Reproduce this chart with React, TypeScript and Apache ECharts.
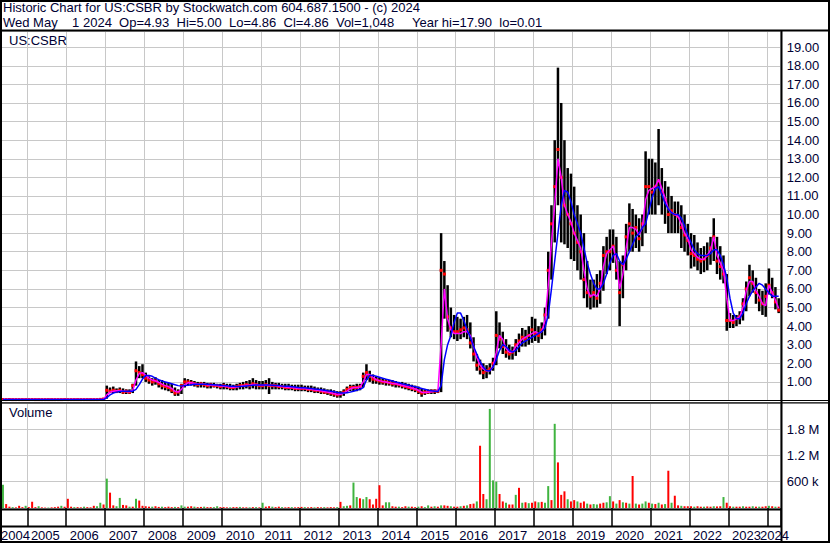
import React, { useEffect, useRef } from 'react';
import * as echarts from 'echarts';

// ---- categories: one per month, May 2004 .. Apr 2024 ----
const FIRST_YEAR = 2004;
const FIRST_MONTH = 5;
const MONTH_COUNT = 240;
const months: string[] = [];
for (let k = 0; k < MONTH_COUNT; k++) {
  const t = FIRST_MONTH - 1 + k;
  const y = FIRST_YEAR + Math.floor(t / 12);
  const m = (t % 12) + 1;
  months.push(`${y}-${String(m).padStart(2, '0')}`);
}

const NB = '\u00a0';
const headerLine1 = 'Historic Chart for US:CSBR by Stockwatch.com 604.687.1500 - (c) 2024';
const headerLine2 =
  `Wed May${NB}${NB}${NB} 1 2024${NB} Op=4.93${NB} Hi=5.00${NB} Lo=4.86${NB} Cl=4.86${NB} Vol=1,048${NB}${NB}${NB}${NB} Year hi=17.90${NB} lo=0.01`;
const symbolLabel = 'US:CSBR';
const volumeLabel = 'Volume';
const firstYearLabel = '2004';
const lastYearLabel = '2024';

// monthly high (per year rows; 2004 starts in May, 2024 ends in April)
const high: number[] = [
  0.08, 0.08, 0.07, 0.08, 0.08, 0.07, 0.08, 0.08,
  0.08, 0.07, 0.08, 0.08, 0.07, 0.08, 0.08, 0.07, 0.08, 0.08, 0.07, 0.08,
  0.08, 0.08, 0.07, 0.08, 0.08, 0.07, 0.08, 0.08, 0.07, 0.08, 0.09, 0.1,
  0.8, 0.7, 0.75, 0.65, 0.7, 0.65, 0.6, 0.6, 0.9, 2.1, 1.85, 1.95,
  1.5, 1.3, 1.2, 1.25, 1.1, 1.1, 1.0, 0.95, 0.9, 0.7, 0.6, 0.9,
  1.2, 1.15, 1.1, 1.05, 1.0, 1.0, 1.0, 0.95, 0.95, 0.95, 0.9, 0.9,
  0.95, 0.9, 0.9, 0.85, 0.9, 0.95, 1.0, 1.05, 1.1, 1.2, 1.1, 1.05,
  1.05, 1.1, 1.2, 1.0, 0.95, 0.95, 0.9, 0.9, 0.9, 0.85, 0.85, 0.85,
  0.85, 0.8, 0.8, 0.8, 0.75, 0.7, 0.7, 0.65, 0.6, 0.6, 0.55, 0.5,
  0.5, 0.6, 0.75, 0.85, 0.85, 0.9, 0.9, 1.5, 1.95, 1.6, 1.4, 1.3,
  1.25, 1.2, 1.15, 1.1, 1.1, 1.05, 1.0, 1.0, 0.95, 0.9, 0.85, 0.8,
  0.75, 0.65, 0.6, 0.6, 0.6, 0.6, 0.6, 9.0, 7.5, 6.2, 5.0, 4.6,
  4.5, 4.4, 4.5, 4.6, 4.2, 3.4, 2.5, 2.2, 2.0, 1.9, 2.0, 2.3,
  4.8, 4.2, 3.7, 3.3, 3.0, 2.9, 3.3, 3.6, 3.9, 3.8, 4.0, 4.5,
  4.4, 4.0, 4.2, 5.0, 8.0, 10.5, 14.0, 17.9, 16.0, 14.0, 12.5, 12.2,
  11.5, 10.5, 10.0, 9.0, 7.5, 6.5, 6.5, 6.8, 7.0, 8.3, 8.8, 9.2,
  9.2, 8.8, 7.5, 7.8, 9.5, 10.6, 10.3, 10.0, 9.8, 10.0, 13.4, 13.0,
  13.0, 12.8, 14.6, 12.5, 11.8, 11.5, 11.0, 10.7, 10.7, 10.5, 10.0, 9.5,
  9.0, 8.9, 8.5, 8.2, 8.3, 8.5, 8.8, 9.8, 8.8, 8.3, 7.8, 6.8,
  4.7, 4.6, 4.6, 4.8, 5.5, 6.4, 7.3, 7.0, 6.6, 6.0, 5.9, 6.3,
  7.1, 6.6, 6.1, 5.5,
];

const low: number[] = [
  0.03, 0.03, 0.03, 0.03, 0.03, 0.03, 0.03, 0.03,
  0.03, 0.03, 0.03, 0.03, 0.03, 0.03, 0.03, 0.03, 0.03, 0.03, 0.03, 0.03,
  0.03, 0.03, 0.03, 0.03, 0.03, 0.03, 0.03, 0.03, 0.03, 0.03, 0.04, 0.05,
  0.1, 0.4, 0.4, 0.4, 0.4, 0.35, 0.35, 0.35, 0.4, 0.8, 1.2, 1.2,
  1.0, 0.9, 0.8, 0.85, 0.7, 0.6, 0.55, 0.5, 0.4, 0.25, 0.25, 0.35,
  0.7, 0.8, 0.8, 0.75, 0.7, 0.7, 0.7, 0.65, 0.65, 0.7, 0.65, 0.6,
  0.6, 0.6, 0.55, 0.55, 0.55, 0.6, 0.6, 0.65, 0.6, 0.65, 0.6, 0.6,
  0.6, 0.6, 0.35, 0.6, 0.6, 0.6, 0.6, 0.55, 0.55, 0.55, 0.5, 0.5,
  0.5, 0.5, 0.45, 0.45, 0.4, 0.4, 0.35, 0.35, 0.3, 0.25, 0.2, 0.15,
  0.15, 0.25, 0.4, 0.5, 0.5, 0.5, 0.55, 0.7, 1.1, 1.0, 0.9, 0.9,
  0.85, 0.85, 0.8, 0.8, 0.75, 0.7, 0.7, 0.65, 0.6, 0.55, 0.5, 0.45,
  0.35, 0.2, 0.3, 0.35, 0.35, 0.35, 0.4, 0.45, 4.4, 3.7, 3.4, 3.3,
  3.2, 3.3, 3.4, 3.3, 2.8, 2.1, 1.6, 1.4, 1.15, 1.2, 1.4, 1.6,
  1.9, 2.8, 2.5, 2.3, 2.2, 2.2, 2.4, 2.6, 2.9, 2.9, 3.0, 3.1,
  3.2, 3.1, 3.3, 3.5, 4.4, 6.5, 8.5, 10.5, 8.5, 8.4, 8.2, 7.6,
  7.5, 7.0, 6.5, 5.5, 5.0, 4.9, 5.0, 5.0, 5.2, 5.9, 6.8, 7.0,
  7.4, 6.5, 4.0, 5.5, 7.0, 8.0, 8.0, 8.2, 8.0, 8.3, 9.0, 10.0,
  10.0, 10.0, 10.5, 10.0, 9.5, 9.0, 9.0, 9.0, 9.0, 8.2, 8.0, 7.8,
  7.1, 7.2, 7.0, 6.8, 6.9, 7.0, 7.3, 7.5, 6.8, 6.5, 6.3, 3.75,
  3.9, 3.9, 4.0, 4.1, 4.3, 4.8, 5.6, 5.8, 5.2, 4.8, 4.6, 4.5,
  5.7, 5.5, 4.9, 4.7,
];

const close: number[] = [
  0.05, 0.05, 0.05, 0.05, 0.05, 0.05, 0.05, 0.05,
  0.05, 0.05, 0.05, 0.05, 0.05, 0.05, 0.05, 0.05, 0.05, 0.05, 0.05, 0.05,
  0.05, 0.05, 0.05, 0.05, 0.05, 0.05, 0.05, 0.05, 0.05, 0.05, 0.06, 0.08,
  0.55, 0.5, 0.55, 0.5, 0.55, 0.45, 0.5, 0.45, 0.8, 1.6, 1.5, 1.4,
  1.2, 1.1, 1.0, 1.05, 0.9, 0.8, 0.75, 0.7, 0.55, 0.4, 0.45, 0.8,
  1.0, 1.0, 0.95, 0.9, 0.85, 0.9, 0.85, 0.8, 0.85, 0.8, 0.8, 0.75,
  0.8, 0.75, 0.7, 0.7, 0.75, 0.8, 0.8, 0.85, 0.8, 0.9, 0.85, 0.8,
  0.8, 0.85, 0.8, 0.8, 0.8, 0.75, 0.75, 0.7, 0.7, 0.7, 0.65, 0.65,
  0.65, 0.65, 0.6, 0.6, 0.55, 0.55, 0.5, 0.45, 0.45, 0.4, 0.35, 0.3,
  0.35, 0.45, 0.6, 0.7, 0.7, 0.7, 0.75, 1.3, 1.5, 1.3, 1.15, 1.1,
  1.05, 1.0, 1.0, 0.95, 0.9, 0.9, 0.85, 0.8, 0.75, 0.7, 0.65, 0.6,
  0.5, 0.4, 0.45, 0.45, 0.5, 0.5, 0.5, 7.0, 6.8, 4.5, 3.9, 3.7,
  3.7, 3.8, 3.9, 3.8, 3.1, 2.5, 1.9, 1.7, 1.5, 1.6, 1.7, 2.0,
  3.5, 3.3, 2.9, 2.6, 2.5, 2.6, 3.0, 3.2, 3.4, 3.3, 3.5, 3.8,
  3.6, 3.5, 3.8, 4.6, 7.0, 9.5, 11.5, 13.5, 12.0, 10.5, 10.0, 9.5,
  9.0, 8.5, 8.0, 6.5, 5.8, 5.6, 5.8, 5.5, 6.3, 7.8, 8.0, 8.0,
  8.3, 7.0, 5.8, 7.3, 8.8, 9.5, 9.0, 9.3, 8.7, 9.5, 11.5, 11.5,
  11.2, 11.5, 11.8, 11.2, 10.8, 10.0, 10.2, 10.0, 9.9, 9.3, 8.9, 8.6,
  7.9, 7.8, 7.6, 7.5, 7.6, 7.8, 8.2, 8.8, 7.5, 7.2, 6.8, 4.3,
  4.3, 4.2, 4.4, 4.5, 5.2, 6.0, 6.6, 6.3, 5.8, 5.4, 5.2, 5.6,
  6.2, 5.8, 5.3, 4.86,
];

// short moving average (magenta)
const maFast: number[] = [
  0.05, 0.05, 0.05, 0.05, 0.05, 0.05, 0.05, 0.05,
  0.05, 0.05, 0.05, 0.05, 0.05, 0.05, 0.05, 0.05, 0.05, 0.05, 0.05, 0.05,
  0.05, 0.05, 0.05, 0.05, 0.05, 0.05, 0.05, 0.05, 0.05, 0.05, 0.05, 0.06,
  0.3, 0.45, 0.5, 0.52, 0.52, 0.5, 0.48, 0.47, 0.55, 1.1, 1.45, 1.5,
  1.35, 1.2, 1.1, 1.05, 0.98, 0.88, 0.8, 0.75, 0.65, 0.5, 0.45, 0.6,
  0.85, 0.95, 0.95, 0.92, 0.88, 0.88, 0.87, 0.84, 0.83, 0.82, 0.8, 0.78,
  0.77, 0.75, 0.72, 0.71, 0.72, 0.76, 0.79, 0.82, 0.82, 0.86, 0.86, 0.82,
  0.81, 0.83, 0.8, 0.8, 0.8, 0.77, 0.75, 0.72, 0.7, 0.7, 0.67, 0.65,
  0.65, 0.65, 0.62, 0.6, 0.57, 0.55, 0.52, 0.48, 0.45, 0.42, 0.37, 0.32,
  0.33, 0.4, 0.5, 0.62, 0.7, 0.7, 0.72, 1.0, 1.4, 1.4, 1.25, 1.12,
  1.07, 1.02, 1.0, 0.96, 0.92, 0.9, 0.86, 0.82, 0.77, 0.72, 0.67, 0.62,
  0.55, 0.45, 0.43, 0.45, 0.47, 0.5, 0.5, 3.0, 6.0, 4.4, 3.8, 3.6,
  3.6, 3.6, 3.7, 3.7, 3.5, 2.9, 2.3, 1.9, 1.7, 1.6, 1.6, 1.8,
  2.6, 3.5, 3.3, 2.8, 2.6, 2.6, 2.9, 3.1, 3.3, 3.4, 3.5, 3.6,
  3.7, 3.6, 3.7, 4.3, 6.2, 8.5, 10.5, 13.0, 12.0, 10.5, 10.0, 9.6,
  9.0, 8.6, 8.2, 7.0, 6.0, 5.6, 5.7, 5.6, 6.0, 7.2, 7.9, 8.1,
  8.3, 7.5, 6.0, 6.8, 8.2, 9.3, 9.3, 9.2, 8.9, 9.3, 10.8, 11.3,
  11.4, 11.5, 11.9, 11.4, 10.9, 10.3, 10.1, 10.0, 9.9, 9.5, 9.0, 8.7,
  8.1, 7.9, 7.7, 7.6, 7.6, 7.8, 8.1, 8.8, 7.8, 7.4, 7.0, 5.5,
  4.3, 4.3, 4.4, 4.5, 5.0, 5.9, 6.4, 6.4, 5.9, 5.6, 5.2, 5.1,
  6.2, 5.8, 5.4, 4.95,
];

// long moving average (blue)
const maSlow: number[] = [
  0.05, 0.05, 0.05, 0.05, 0.05, 0.05, 0.05, 0.05,
  0.05, 0.05, 0.05, 0.05, 0.05, 0.05, 0.05, 0.05, 0.05, 0.05, 0.05, 0.05,
  0.05, 0.05, 0.05, 0.05, 0.05, 0.05, 0.05, 0.05, 0.05, 0.05, 0.05, 0.05,
  0.15, 0.3, 0.4, 0.45, 0.48, 0.5, 0.5, 0.5, 0.5, 0.6, 0.85, 1.15,
  1.35, 1.35, 1.3, 1.2, 1.12, 1.05, 1.0, 0.95, 0.9, 0.85, 0.8, 0.78,
  0.8, 0.82, 0.85, 0.87, 0.88, 0.88, 0.88, 0.87, 0.86, 0.85, 0.84, 0.82,
  0.8, 0.79, 0.77, 0.76, 0.75, 0.75, 0.76, 0.78, 0.8, 0.82, 0.84, 0.84,
  0.83, 0.83, 0.83, 0.82, 0.81, 0.8, 0.78, 0.77, 0.76, 0.74, 0.72, 0.7,
  0.69, 0.68, 0.66, 0.64, 0.62, 0.6, 0.58, 0.55, 0.52, 0.5, 0.47, 0.43,
  0.4, 0.4, 0.42, 0.45, 0.5, 0.55, 0.6, 0.7, 1.1, 1.35, 1.35, 1.3,
  1.25, 1.2, 1.15, 1.1, 1.05, 1.0, 0.95, 0.9, 0.86, 0.82, 0.78, 0.74,
  0.7, 0.65, 0.6, 0.55, 0.52, 0.5, 0.48, 0.8, 2.2, 3.0, 3.5, 4.2,
  4.7, 4.7, 4.3, 3.8, 3.4, 2.9, 2.5, 2.1, 1.8, 1.6, 1.6, 1.8,
  2.2, 2.7, 3.0, 2.9, 2.7, 2.6, 2.7, 2.9, 3.1, 3.2, 3.3, 3.4,
  3.5, 3.6, 3.7, 3.9, 4.6, 6.0, 7.5, 9.0, 10.5, 11.3, 11.2, 10.7,
  10.0, 9.5, 9.0, 8.2, 7.4, 6.8, 6.3, 6.0, 6.0, 6.3, 6.8, 7.4,
  7.8, 7.9, 7.5, 7.3, 7.6, 8.0, 8.4, 8.8, 9.0, 9.3, 9.5, 10.2,
  10.9, 11.4, 11.5, 11.1, 10.6, 10.3, 10.1, 10.0, 10.0, 9.8, 9.4, 8.9,
  8.5, 8.1, 7.9, 7.8, 7.8, 7.8, 7.9, 8.1, 8.1, 7.8, 7.3, 6.6,
  5.5, 4.7, 4.4, 4.4, 4.7, 5.2, 5.6, 5.9, 6.1, 6.3, 6.2, 6.0,
  5.8, 5.6, 5.6, 5.6,
];

// monthly peak daily volume, thousands of shares
const volumeK: number[] = [
  530, 90, 30, 20, 15, 50, 20, 50,
  20, 140, 20, 40, 15, 10, 10, 15, 20, 30, 50, 30,
  210, 30, 20, 20, 15, 30, 20, 15, 50, 40, 120, 80,
  670, 350, 60, 40, 230, 70, 60, 30, 30, 210, 170, 50,
  40, 30, 30, 40, 25, 30, 20, 30, 20, 25, 20, 60,
  30, 30, 40, 30, 20, 25, 30, 20, 20, 20, 40, 20,
  20, 15, 15, 20, 20, 25, 15, 15, 15, 20, 20, 15,
  120, 30, 40, 30, 20, 30, 20, 15, 20, 20, 15, 20,
  25, 20, 15, 20, 15, 20, 15, 20, 15, 20, 15, 20,
  140, 40, 50, 60, 580, 250, 220, 200, 250, 200, 80, 210,
  520, 60, 130, 130, 40, 30, 30, 20, 40, 30, 30, 20,
  30, 40, 20, 60, 30, 40, 30, 60, 60, 50, 40, 30,
  30, 40, 50, 60, 90, 100, 150, 1420, 320, 200, 2260, 630,
  600, 320, 150, 120, 80, 80, 300, 460, 120, 130, 110, 120,
  150, 130, 140, 120, 500, 180, 1920, 1040, 300, 380, 200, 150,
  180, 150, 120, 150, 100, 80, 90, 80, 100, 120, 130, 270,
  150, 100, 180, 130, 120, 100, 730, 100, 80, 100, 150, 120,
  100, 90, 120, 80, 90, 850, 120, 280, 60, 50, 40, 40,
  40, 30, 40, 30, 30, 35, 30, 40, 35, 40, 250, 120,
  40, 30, 30, 30, 40, 30, 30, 40, 30, 30, 30, 40,
  50, 40, 30, 30,
];

// u = up (green) bar, d = down (red) bar
const volumeDir: string[] = [
  'uddudddu',
  'ddduddudddud',
  'ddudduddduud',
  'udduuddududd',
  'dduddudddudu',
  'udduddudduud',
  'ddudduddudud',
  'uddudduddudd',
  'dudduddudddu',
  'duuduuduuddd',
  'dduudduddudd',
  'uduudududdud',
  'dududdudduuu',
  'udduddududud',
  'duduududddud',
  'dudduduudduu',
  'dududududuud',
  'ududududdudd',
  'duddudduddud',
  'dudduddududd',
  'udud',
];

const FONT = '"Liberation Sans", Arial, Helvetica, sans-serif';
const TXT = '#000033';
const GRID_GRAY = '#c8c8c8';
const GREEN = '#3fb43f';
const RED = '#ff0000';

const isJan = (_i: number, v: string) => typeof v === 'string' && v.endsWith('-01');

export default function App() {
  const ref = useRef<HTMLDivElement>(null);

  useEffect(() => {
    if (!ref.current) return;
    const chart = echarts.init(ref.current, undefined, { renderer: 'svg' });
    const dirs = volumeDir.join('');

    const ohlc = months.map((_, i) => [i, high[i], low[i], close[i]]);
    const volData = volumeK.map((v, i) => ({
      value: v * 1000,
      itemStyle: { color: dirs[i] === 'u' ? GREEN : RED },
    }));

    const renderBar = (_params: any, api: any) => {
      const i = api.value(0);
      const top = api.coord([i, api.value(1)]);
      const bot = api.coord([i, api.value(2)]);
      const cl = api.coord([i, api.value(3)]);
      return {
        type: 'group',
        children: [
          {
            type: 'line',
            shape: { x1: top[0], y1: top[1], x2: bot[0], y2: Math.max(bot[1], top[1] + 1) },
            style: { stroke: '#000000', lineWidth: 2.5 },
          },
          {
            type: 'rect',
            shape: { x: cl[0] - 1.5, y: cl[1] - 1.5, width: 3, height: 3 },
            style: { fill: RED },
          },
        ],
      };
    };

    const labelStyle = { fontFamily: FONT, fontSize: 13, color: TXT };

    const option: any = {
      animation: false,
      backgroundColor: '#ffffff',
      textStyle: { fontFamily: FONT },
      grid: [
        { left: 1.3, top: 31, width: 779, height: 369.5 },
        { left: 1.3, top: 403, width: 779, height: 105 },
      ],
      xAxis: [
        {
          type: 'category',
          gridIndex: 0,
          data: months,
          boundaryGap: true,
          axisLine: { show: false },
          axisTick: { show: false },
          axisLabel: { show: false },
          splitLine: { show: true, interval: isJan, lineStyle: { color: GRID_GRAY, width: 1 } },
        },
        {
          type: 'category',
          gridIndex: 1,
          data: months,
          boundaryGap: true,
          axisLine: { show: false },
          axisTick: {
            show: true,
            interval: isJan,
            length: 18.5,
            lineStyle: { color: '#000000', width: 1.5 },
          },
          axisLabel: {
            show: true,
            interval: (i: number, v: string) => isJan(i, v) && !v.startsWith(lastYearLabel),
            formatter: (v: string) => v.slice(0, 4),
            margin: 21,
            align: 'left',
            padding: [0, 0, 0, 2],
            ...labelStyle,
          },
          splitLine: { show: true, interval: isJan, lineStyle: { color: GRID_GRAY, width: 1 } },
        },
      ],
      yAxis: [
        {
          type: 'value',
          gridIndex: 0,
          position: 'right',
          min: 0,
          max: 19.87,
          interval: 1,
          axisLine: { show: false },
          axisTick: { show: false },
          axisLabel: {
            margin: 6.5,
            align: 'left',
            formatter: (v: number) => (Number.isInteger(v) && v > 0 ? v.toFixed(2) : ''),
            ...labelStyle,
          },
          splitLine: { show: true, lineStyle: { color: GRID_GRAY, width: 1 } },
        },
        {
          type: 'value',
          gridIndex: 1,
          position: 'right',
          min: 0,
          max: 2395000,
          interval: 600000,
          axisLine: { show: false },
          axisTick: { show: false },
          axisLabel: {
            margin: 6.5,
            align: 'left',
            formatter: (v: number) =>
              v === 600000 ? '600 k' : v === 1200000 ? '1.2 M' : v === 1800000 ? '1.8 M' : '',
            ...labelStyle,
          },
          splitLine: { show: true, lineStyle: { color: GRID_GRAY, width: 1 } },
        },
      ],
      series: [
        {
          type: 'custom',
          name: 'Price',
          xAxisIndex: 0,
          yAxisIndex: 0,
          data: ohlc,
          encode: { x: 0, y: [1, 2, 3] },
          renderItem: renderBar,
          z: 2,
        },
        {
          type: 'line',
          name: 'MA short',
          xAxisIndex: 0,
          yAxisIndex: 0,
          data: maFast,
          symbol: 'none',
          lineStyle: { color: '#ff00ff', width: 1.5 },
          z: 3,
        },
        {
          type: 'line',
          name: 'MA long',
          xAxisIndex: 0,
          yAxisIndex: 0,
          data: maSlow,
          symbol: 'none',
          lineStyle: { color: '#0000ff', width: 1.5 },
          z: 4,
        },
        {
          type: 'bar',
          name: 'Volume',
          xAxisIndex: 1,
          yAxisIndex: 1,
          data: volData,
          barWidth: 2,
          z: 2,
        },
      ],
      graphic: [
        { type: 'rect', z: 100, shape: { x: 1, y: 1, width: 828, height: 541 }, style: { fill: 'none', stroke: '#000', lineWidth: 2 } },
        { type: 'line', z: 100, shape: { x1: 0, y1: 30.5, x2: 830, y2: 30.5 }, style: { stroke: '#000', lineWidth: 2 } },
        { type: 'line', z: 100, shape: { x1: 0, y1: 400.5, x2: 830, y2: 400.5 }, style: { stroke: '#000', lineWidth: 1.2 } },
        { type: 'line', z: 100, shape: { x1: 0, y1: 402.8, x2: 830, y2: 402.8 }, style: { stroke: '#000', lineWidth: 1.2 } },
        { type: 'line', z: 100, shape: { x1: 781.5, y1: 30, x2: 781.5, y2: 543 }, style: { stroke: '#000', lineWidth: 2 } },
        { type: 'line', z: 100, shape: { x1: 0, y1: 509.5, x2: 782, y2: 509.5 }, style: { stroke: '#000', lineWidth: 2 } },
        { type: 'line', z: 100, shape: { x1: 0, y1: 526.5, x2: 782, y2: 526.5 }, style: { stroke: '#000', lineWidth: 2 } },
        { type: 'text', z: 100, x: 3, y: 1, style: { text: headerLine1, font: `13px ${FONT}`, fill: TXT } },
        { type: 'text', z: 100, x: 3, y: 16, style: { text: headerLine2, font: `13px ${FONT}`, fill: TXT } },
        { type: 'text', z: 100, x: 9, y: 34, style: { text: symbolLabel, font: `13px ${FONT}`, fill: TXT } },
        { type: 'text', z: 100, x: 9, y: 406, style: { text: volumeLabel, font: `13px ${FONT}`, fill: TXT } },
        { type: 'text', z: 100, x: 1, y: 529, style: { text: firstYearLabel, font: `13px ${FONT}`, fill: TXT } },
        { type: 'text', z: 100, x: 760, y: 529, style: { text: lastYearLabel, font: `13px ${FONT}`, fill: TXT } },
      ],
    };

    chart.setOption(option);
    return () => chart.dispose();
  }, []);

  return (
    <div
      ref={ref}
      style={{ position: 'fixed', left: 0, top: 0, width: 830, height: 543, background: '#fff' }}
    />
  );
}
